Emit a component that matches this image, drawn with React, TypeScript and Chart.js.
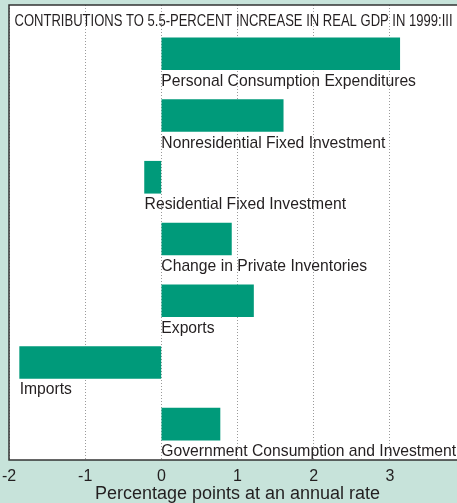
import React, { useEffect, useRef } from "react";
import { Chart, registerables } from "chart.js";

Chart.register(...registerables);

const titleText = "CONTRIBUTIONS TO 5.5-PERCENT INCREASE IN REAL GDP IN 1999:III";
const categories = [
  "Personal Consumption Expenditures",
  "Nonresidential Fixed Investment",
  "Residential Fixed Investment",
  "Change in Private Inventories",
  "Exports",
  "Imports",
  "Government Consumption and Investment",
];
const contributions = [3.13, 1.6, -0.22, 0.92, 1.21, -1.86, 0.77];
const xTicks = [-2, -1, 0, 1, 2, 3, 4];
const xAxisTitle = "Percentage points at an annual rate";

const BG = "#c7e3da";
const BAR = "#009a7a";
const TEXT = "#231f20";
const SANS = '"Liberation Sans", Arial, Helvetica, sans-serif';

export default function App() {
  const ref = useRef<HTMLCanvasElement | null>(null);

  useEffect(() => {
    if (!ref.current) return;
    const framePlugin = {
      id: "frame",
      beforeDraw(chart: any) {
        const { ctx, chartArea } = chart;
        ctx.save();
        ctx.fillStyle = "#ffffff";
        ctx.fillRect(chartArea.left, chartArea.top, chartArea.right - chartArea.left, chartArea.bottom - chartArea.top);
        ctx.restore();
      },
      afterDraw(chart: any) {
        const { ctx, chartArea, scales } = chart;
        ctx.save();
        ctx.strokeStyle = "#333333";
        ctx.lineWidth = 1.5;
        ctx.strokeRect(chartArea.left, chartArea.top, chartArea.right - chartArea.left, chartArea.bottom - chartArea.top);
        // condensed title
        ctx.fillStyle = TEXT;
        ctx.font = "16.5px " + SANS;
        ctx.textBaseline = "alphabetic";
        ctx.textAlign = "left";
        const w = ctx.measureText(titleText).width;
        const targetW = 438;
        const tx = chartArea.left + 5.5;
        const ty = chartArea.top + 20.8;
        ctx.save();
        ctx.translate(tx, ty);
        ctx.scale(targetW / w, 1);
        ctx.fillText(titleText, 0, 0);
        ctx.restore();
        // category labels
        ctx.font = "15.7px " + SANS;
        const xs = scales.x;
        const ys = scales.y;
        categories.forEach((c, i) => {
          const v = contributions[i];
          const x = xs.getPixelForValue(Math.min(0, v));
          const y = ys.getPixelForValue(i) + 32;
          ctx.fillText(c, x, y);
        });
        ctx.restore();
      },
    };

    const chart = new Chart(ref.current, {
      type: "bar",
      data: {
        datasets: [
          {
            data: contributions.map((v, i) => ({ x: v, y: i })) as any,
            backgroundColor: BAR,
            borderWidth: 0,
            barThickness: 32,
          },
        ],
      },
      plugins: [framePlugin],
      options: {
        indexAxis: "y",
        animation: false,
        responsive: false,
        maintainAspectRatio: false,
        layout: { padding: { left: 9, right: 14, top: 5, bottom: 0 } },
        plugins: {
          legend: { display: false },
          tooltip: { enabled: false },
          title: { display: false },
        },
        scales: {
          x: {
            type: "linear",
            min: -2,
            max: 4,
            afterBuildTicks(scale: any) {
              scale.ticks = xTicks.map((v) => ({ value: v }));
            },
            afterFit(scale: any) {
              scale.paddingLeft = 0;
              scale.paddingRight = 0;
              scale.height = 43;
            },
            grid: {
              color: "#9a9a9a",
              lineWidth: 1,
              drawTicks: false,
            },
            border: { display: false, dash: [1, 2] } as any,
            ticks: {
              color: TEXT,
              font: { family: SANS, size: 16 },
              padding: 7,
              maxRotation: 0,
              autoSkip: false,
              callback: (v: any) => String(v),
            },
            title: {
              display: true,
              text: xAxisTitle,
              color: TEXT,
              font: { family: SANS, size: 18, lineHeight: 1 },
              padding: { top: 0, bottom: 0 },
            },
          },
          y: {
            type: "linear",
            display: false,
            reverse: true,
            offset: false,
            bounds: "data",
            min: -0.79,
            max: 6.58,
          },
        },
      } as any,
    });
    return () => chart.destroy();
  }, []);

  return (
    <div
      style={{
        position: "fixed",
        left: 0,
        top: 0,
        width: 457,
        height: 503,
        overflow: "hidden",
        background: BG,
      }}
    >
      <canvas ref={ref} width={480} height={503} style={{ display: "block", width: 480, height: 503 }} />
    </div>
  );
}
